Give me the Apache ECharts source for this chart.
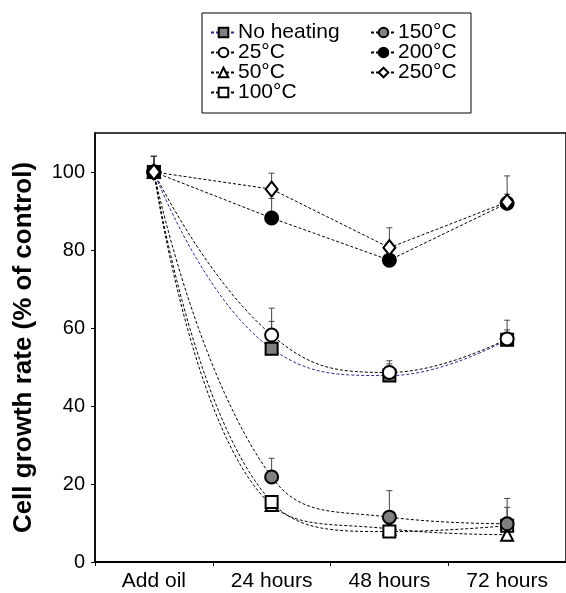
<!DOCTYPE html>
<html>
<head>
<meta charset="utf-8">
<script src="https://cdn.jsdelivr.net/npm/echarts@6/dist/echarts.min.js"></script>
<style>
  html, body { margin: 0; padding: 0; background: #fff; }
  #chart { width: 566px; height: 593px; }
</style>
</head>
<body>
<div id="chart"></div>
<script>
// x categories and y ticks
const categories = ['Add oil', '24 hours', '48 hours', '72 hours'];
const yTicks = [0, 20, 40, 60, 80, 100];

// mean values (% of control)
const noHeating = [100, 54.7, 47.8, 57.0];
const c25 = [100, 58.2, 48.6, 57.2];
const c50 = [100, 14.6, 8.5, 7.0];
const c100 = [100, 15.4, 7.8, 9.3];
const c150 = [100, 21.8, 11.5, 9.8];
const c200 = [100, 88.2, 77.4, 92.0];
const c250 = [100, 95.6, 80.6, 92.3];

// top of error bars
const errNoHeating = [104, 61.7, 50.8, 59.5];
const err25 = [104, 65.1, 51.6, 62.0];
const err50 = [104, 16.5, 9.0, 8.5];
const err100 = [104, 17.0, 9.5, 14.0];
const err150 = [104, 26.6, 18.3, 16.3];
const err200 = [104, 93.2, 80.5, 94.3];
const err250 = [104, 99.7, 85.7, 99.0];

const FONT = '"Liberation Sans", Arial, sans-serif';

const groups = [
  { name: 'No heating', data: noHeating, err: errNoHeating, symbol: 'rect', size: 12, fill: '#808080', line: '#2a2a8c', smooth: 0.45 },
  { name: '25°C', data: c25, err: err25, symbol: 'circle', size: 13, fill: '#fff', line: '#000', smooth: 0.45 },
  { name: '50°C', data: c50, err: err50, symbol: 'triangle', size: 12, fill: '#fff', line: '#000', smooth: 0.45 },
  { name: '100°C', data: c100, err: err100, symbol: 'rect', size: 12, fill: '#fff', line: '#000', smooth: 0.45 },
  { name: '150°C', data: c150, err: err150, symbol: 'circle', size: 13, fill: '#808080', line: '#000', smooth: 0.45 },
  { name: '200°C', data: c200, err: err200, symbol: 'circle', size: 13, fill: '#000', line: '#000', smooth: false },
  { name: '250°C', data: c250, err: err250, symbol: 'diamond', size: [12, 15], fill: '#fff', line: '#000', smooth: false }
];

// error bar data: [category index, mean, top]
const errData = [];
groups.forEach(g => {
  g.data.forEach((v, i) => errData.push([i, v, g.err[i]]));
});

const series = groups.map(g => ({
  name: g.name,
  type: 'line',
  data: g.data,
  smooth: g.smooth,
  symbol: g.symbol,
  symbolSize: g.size,
  z: 3,
  lineStyle: { color: g.line, width: 1, type: [3, 2] },
  itemStyle: { color: g.fill, borderColor: '#000', borderWidth: 2 }
}));

series.unshift({
  type: 'custom',
  z: 1,
  data: errData,
  renderItem: function (params, api) {
    const p = api.coord([api.value(0), api.value(1)]);
    const t = api.coord([api.value(0), api.value(2)]);
    const style = { stroke: '#444', lineWidth: 1 };
    return {
      type: 'group',
      children: [
        { type: 'line', shape: { x1: p[0], y1: p[1], x2: t[0], y2: t[1] }, style: style },
        { type: 'line', shape: { x1: t[0] - 3, y1: t[1], x2: t[0] + 3, y2: t[1] }, style: style }
      ]
    };
  }
});

const legendBase = {
  orient: 'vertical',
  top: 22,
  padding: 0,
  itemWidth: 25,
  itemHeight: 12,
  itemGap: -1,
  selectedMode: false,
  textStyle: { fontFamily: FONT, fontSize: 21, color: '#000', padding: [0, 0, 0, -3] }
};

const chart = echarts.init(document.getElementById('chart'));
chart.setOption({
  animation: false,
  backgroundColor: '#fff',
  legend: [
    Object.assign({}, legendBase, { left: 210, data: ['No heating', '25°C', '50°C', '100°C'] }),
    Object.assign({}, legendBase, { left: 370, data: ['150°C', '200°C', '250°C'] })
  ],
  graphic: [{
    type: 'rect',
    shape: { x: 202, y: 13, width: 269, height: 100 },
    style: { fill: 'none', stroke: '#000', lineWidth: 1 }
  }],
  grid: {
    left: 95, right: -11, top: 133, bottom: 31,
    show: true, borderColor: '#000', borderWidth: 1.5
  },
  xAxis: {
    type: 'category',
    data: categories,
    boundaryGap: true,
    axisLine: { lineStyle: { color: '#000', width: 2 } },
    axisTick: { show: true, length: 4, interval: 0, lineStyle: { color: '#000' } },
    axisLabel: { fontFamily: FONT, fontSize: 21, color: '#000', margin: 9 }
  },
  yAxis: {
    type: 'value',
    min: 0,
    max: 110,
    interval: 20,
    name: 'Cell growth rate (% of control)',
    nameLocation: 'middle',
    nameGap: 58,
    nameTextStyle: { fontFamily: FONT, fontSize: 26, fontWeight: 'bold', color: '#000' },
    splitLine: { show: false },
    axisLine: { show: true, lineStyle: { color: '#000', width: 1.5 } },
    axisTick: { show: true, length: 4, customValues: yTicks, lineStyle: { color: '#000' } },
    axisLabel: { fontFamily: FONT, fontSize: 20, color: '#000', margin: 10, customValues: yTicks }
  },
  series: series
});
</script>
</body>
</html>
